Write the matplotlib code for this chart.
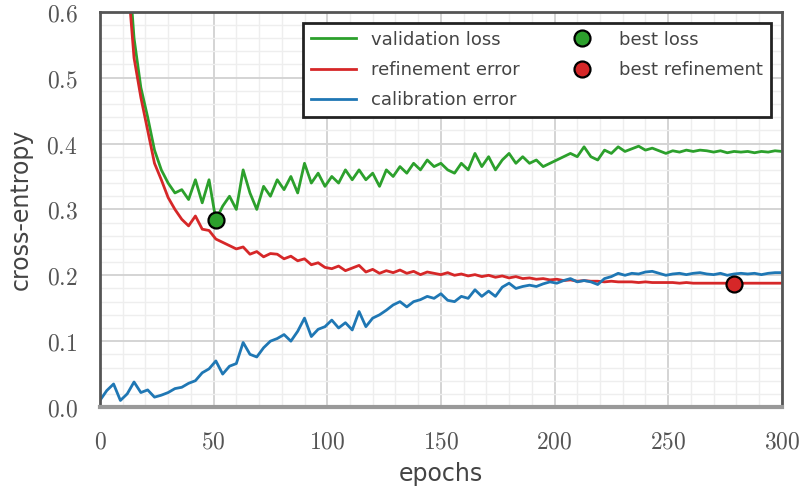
import numpy as np
import matplotlib
matplotlib.use("Agg")
import matplotlib.pyplot as plt
from matplotlib.ticker import MultipleLocator, FuncFormatter

epochs = list(range(0, 301, 3))

validation_loss = [
    2.4, 1.7, 1.25, 0.95, 0.7, 0.56, 0.485, 0.44, 0.39, 0.36,
    0.34, 0.325, 0.33, 0.315, 0.345, 0.31, 0.345, 0.284, 0.305, 0.32,
    0.30, 0.36, 0.325, 0.30, 0.335, 0.32, 0.345, 0.33, 0.35, 0.325,
    0.37, 0.34, 0.355, 0.335, 0.35, 0.34, 0.36, 0.345, 0.36, 0.345,
    0.355, 0.335, 0.36, 0.35, 0.365, 0.355, 0.37, 0.36, 0.375, 0.365,
    0.37, 0.36, 0.355, 0.37, 0.36, 0.385, 0.365, 0.38, 0.36, 0.375,
    0.385, 0.37, 0.38, 0.37, 0.375, 0.365, 0.37, 0.375, 0.38, 0.385,
    0.38, 0.395, 0.38, 0.375, 0.39, 0.385, 0.395, 0.388, 0.392, 0.396,
    0.39, 0.393, 0.389, 0.385, 0.389, 0.387, 0.39, 0.388, 0.39, 0.389,
    0.387, 0.389, 0.386, 0.388, 0.387, 0.388, 0.386, 0.388, 0.387, 0.389,
    0.388,
]

refinement_error = [
    2.3, 1.6, 1.2, 0.9, 0.66, 0.53, 0.47, 0.42, 0.37, 0.345,
    0.318, 0.30, 0.285, 0.275, 0.29, 0.27, 0.268, 0.255, 0.25, 0.245,
    0.24, 0.243, 0.232, 0.236, 0.228, 0.233, 0.232, 0.225, 0.229, 0.222,
    0.225, 0.216, 0.219, 0.212, 0.21, 0.214, 0.207, 0.211, 0.215, 0.205,
    0.209, 0.203, 0.207, 0.204, 0.208, 0.203, 0.206, 0.201, 0.205, 0.203,
    0.201, 0.204, 0.2, 0.202, 0.199, 0.201, 0.198, 0.2, 0.197, 0.199,
    0.196, 0.198, 0.195, 0.196, 0.194, 0.195, 0.193, 0.194, 0.192, 0.193,
    0.191, 0.192, 0.191, 0.191, 0.19, 0.191, 0.19, 0.19, 0.19, 0.189,
    0.19, 0.189, 0.189, 0.189, 0.189, 0.188, 0.189, 0.188, 0.188, 0.188,
    0.188, 0.188, 0.188, 0.187, 0.188, 0.188, 0.188, 0.188, 0.188, 0.188,
    0.188,
]

calibration_error = [
    0.01, 0.025, 0.035, 0.01, 0.02, 0.038, 0.022, 0.026, 0.015, 0.018,
    0.022, 0.028, 0.03, 0.036, 0.04, 0.052, 0.058, 0.07, 0.05, 0.062,
    0.066, 0.098, 0.08, 0.076, 0.09, 0.1, 0.104, 0.11, 0.1, 0.115,
    0.135, 0.107, 0.118, 0.122, 0.132, 0.12, 0.128, 0.117, 0.145, 0.122,
    0.135, 0.14, 0.147, 0.155, 0.16, 0.152, 0.16, 0.163, 0.168, 0.165,
    0.172, 0.162, 0.16, 0.168, 0.165, 0.178, 0.168, 0.176, 0.168, 0.182,
    0.188, 0.18, 0.183, 0.185, 0.183, 0.187, 0.19, 0.188, 0.192, 0.195,
    0.19, 0.192, 0.19, 0.186, 0.195, 0.198, 0.203, 0.2, 0.203, 0.202,
    0.205, 0.206, 0.203, 0.2, 0.202, 0.203, 0.201, 0.203, 0.204, 0.202,
    0.201, 0.203, 0.2, 0.202, 0.203, 0.202, 0.203, 0.201, 0.203, 0.204,
    0.204,
]

GREEN, RED, BLUE = "#2ca02c", "#d62728", "#1f77b4"
TEXT = "#444444"

plt.rcParams["mathtext.fontset"] = "cm"

fig = plt.figure(figsize=(8.06, 4.91), dpi=100)
ax = fig.add_axes([0.124, 0.171, 0.846, 0.805])

ax.plot(epochs, validation_loss, color=GREEN, lw=2.0, label="validation loss")
ax.plot(epochs, refinement_error, color=RED, lw=2.0, label="refinement error")
ax.plot(epochs, calibration_error, color=BLUE, lw=2.0, label="calibration error")

i_loss = int(np.argmin(validation_loss))
i_ref = int(np.argmin(refinement_error))
ax.plot(epochs[i_loss], validation_loss[i_loss], "o", ms=11.5, mfc=GREEN,
        mec="black", mew=1.6, ls="none", label="best loss", zorder=5)
ax.plot(epochs[i_ref], refinement_error[i_ref], "o", ms=11.5, mfc=RED,
        mec="black", mew=1.6, ls="none", label="best refinement", zorder=5)

ax.set_xlim(0, 300)
ax.set_ylim(0, 0.6)
ax.xaxis.set_major_locator(MultipleLocator(50))
ax.xaxis.set_minor_locator(MultipleLocator(10))
ax.yaxis.set_major_locator(MultipleLocator(0.1))
ax.yaxis.set_minor_locator(MultipleLocator(0.02))
ax.xaxis.set_major_formatter(FuncFormatter(lambda v, p: r"$%d$" % v))
ax.yaxis.set_major_formatter(FuncFormatter(lambda v, p: r"$%.1f$" % v))

ax.grid(which="major", color="#d4d4d4", lw=1.4)
ax.grid(which="minor", color="#eeeeee", lw=1.0)
ax.set_axisbelow(True)
ax.tick_params(which="both", length=0, labelsize=17, labelcolor="#555555", pad=16)

for side in ("left", "top", "right"):
    ax.spines[side].set_color("#555555")
    ax.spines[side].set_linewidth(2)
ax.spines["bottom"].set_color("#999999")
ax.spines["bottom"].set_linewidth(3)

ax.set_xlabel("epochs", fontsize=17, color=TEXT, labelpad=6)
ax.set_ylabel("cross-entropy", fontsize=17, color=TEXT, labelpad=10)

leg = ax.legend(loc="upper right", ncol=2, fontsize=13, frameon=True,
                fancybox=False, framealpha=1, edgecolor="#222222",
                borderpad=0.45, labelspacing=0.68, handlelength=2.5,
                handletextpad=0.8, columnspacing=2.2, borderaxespad=0.6)
leg.get_frame().set_linewidth(2)
for t in leg.get_texts():
    t.set_color(TEXT)

fig.savefig("out.png", dpi=100)
